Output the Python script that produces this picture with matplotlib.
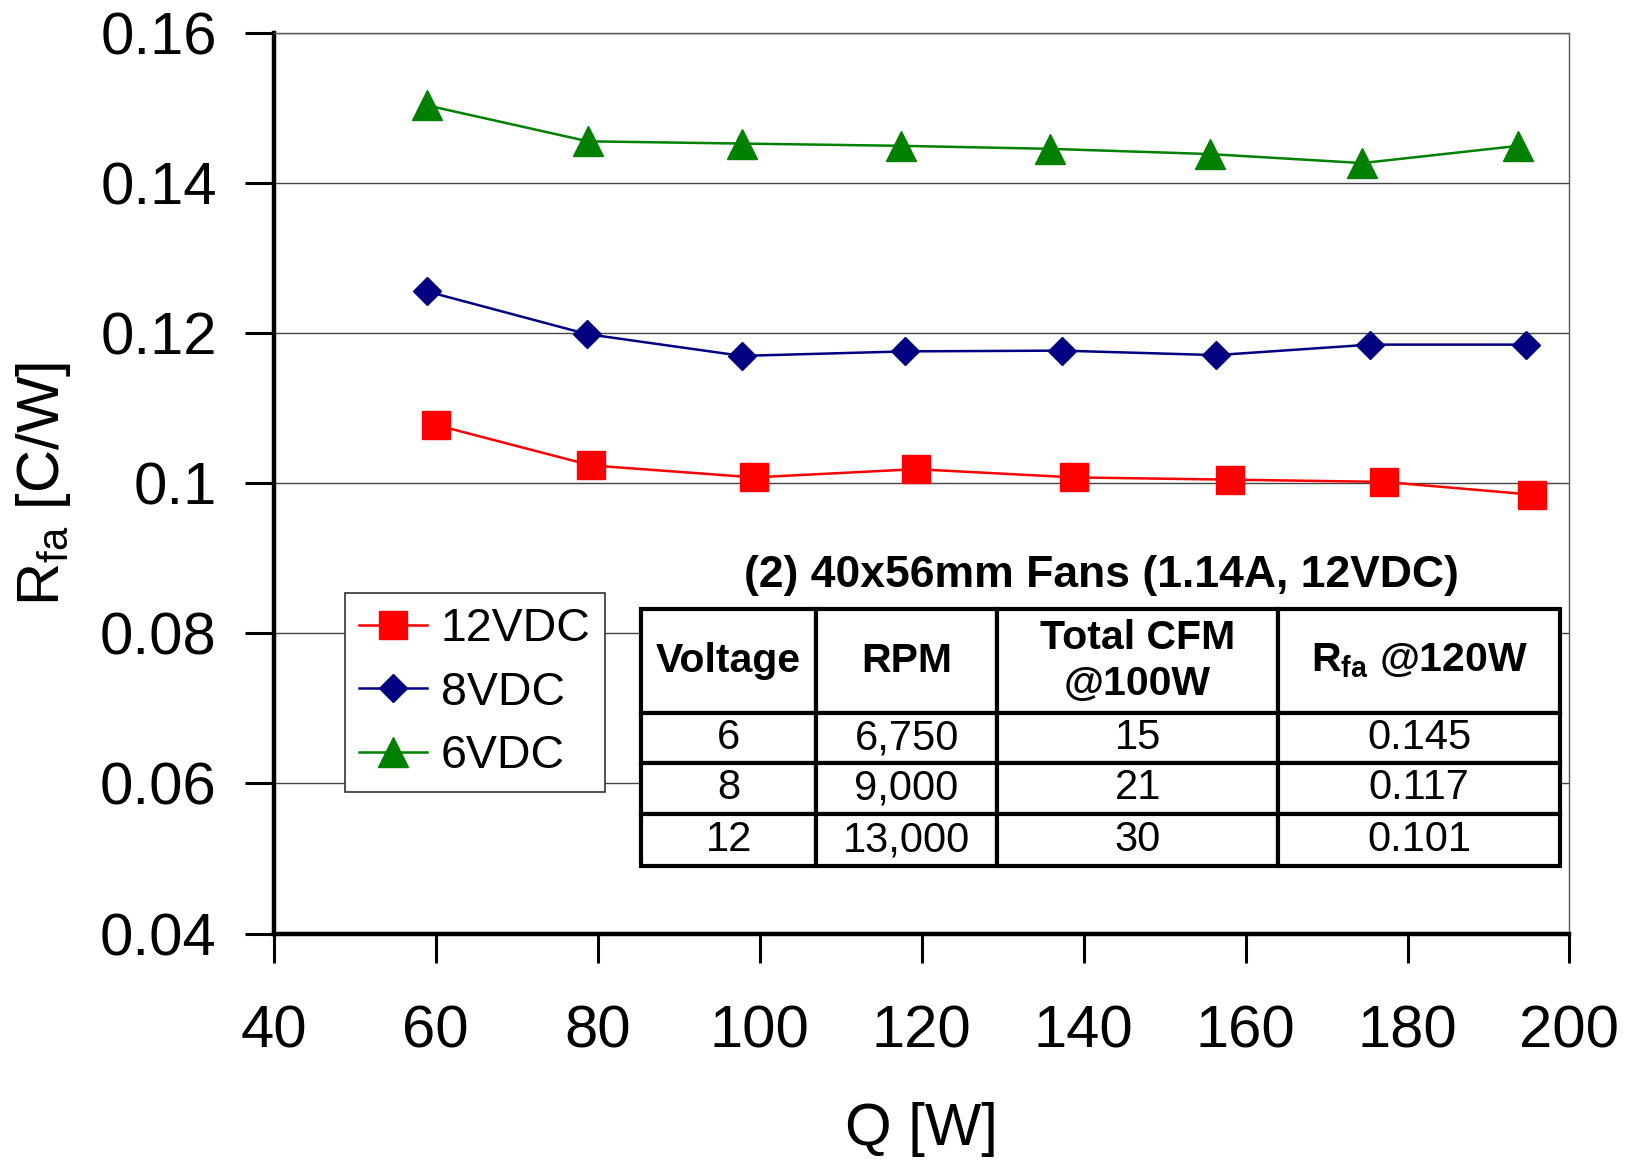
import matplotlib
matplotlib.use("Agg")
import matplotlib.pyplot as plt

plt.rcParams['font.family'] = ['Liberation Sans', 'DejaVu Sans']
plt.rcParams['mathtext.fontset'] = 'custom'
plt.rcParams['mathtext.rm'] = 'Liberation Sans'
plt.rcParams['mathtext.it'] = 'Liberation Sans'
plt.rcParams['mathtext.bf'] = 'Liberation Sans:bold'

# ---- data ----
q_12 = [60.0, 79.2, 99.3, 119.3, 138.8, 158.1, 177.1, 195.4]
r_12 = [0.1078, 0.1024, 0.1008, 0.1019, 0.1008, 0.1005, 0.1002, 0.0985]
q_8 = [58.9, 78.7, 97.8, 118.0, 137.3, 156.4, 175.4, 194.6]
r_8 = [0.1256, 0.1199, 0.1170, 0.1176, 0.1177, 0.1171, 0.1185, 0.1185]
q_6 = [58.9, 78.8, 97.8, 117.4, 135.8, 155.6, 174.4, 193.7]
r_6 = [0.1504, 0.1456, 0.1453, 0.1450, 0.1446, 0.1439, 0.1427, 0.1450]

x_ticks = [40, 60, 80, 100, 120, 140, 160, 180, 200]
y_ticks = [0.04, 0.06, 0.08, 0.1, 0.12, 0.14, 0.16]
y_ticklabels = ["0.04", "0.06", "0.08", "0.1", "0.12", "0.14", "0.16"]

table_title = "(2) 40x56mm Fans (1.14A, 12VDC)"
table_header = ["Voltage", "RPM", "Total CFM\n@100W", r"$\mathbf{R_{fa}}$ @120W"]
table_rows = [["6", "6,750", "15", "0.145"],
              ["8", "9,000", "21", "0.117"],
              ["12", "13,000", "30", "0.101"]]

fig = plt.figure(figsize=(16.32, 11.64), dpi=100)
ax = fig.add_axes([0.1677, 0.198, 0.9617 - 0.1677, 0.9714 - 0.198])

ax.plot(q_12, r_12, color='#FF0000', lw=1.8, marker='s', ms=20, mec='#FF0000', label='12VDC', zorder=3)
ax.plot(q_8, r_8, color='#000080', lw=1.8, marker='D', ms=14.5, mec='#000080', label='8VDC', zorder=3)
ax.plot(q_6, r_6, color='#008000', lw=1.8, marker='^', ms=21, mec='#008000', label='6VDC', zorder=3)

ax.set_xlim(40, 200)
ax.set_ylim(0.04, 0.16)
ax.set_xticks(x_ticks)
ax.set_yticks(y_ticks)
ax.set_yticklabels(y_ticklabels)
ax.tick_params(axis='both', labelsize=43, direction='out', length=21, width=2.2)
ax.tick_params(axis='y', pad=20)
ax.tick_params(axis='x', pad=30)
ax.yaxis.grid(True, color='#444444', lw=1.0)
ax.set_axisbelow(True)
for s in ['left', 'bottom']:
    ax.spines[s].set_linewidth(3.2)
    ax.spines[s].set_color('black')
for s in ['top', 'right']:
    ax.spines[s].set_linewidth(1.0)
    ax.spines[s].set_color('#555555')

ax.set_xlabel("Q [W]", fontsize=43)
ax.xaxis.set_label_coords(0.5, -0.187)
ax.xaxis.label.set_va('top')
fig.text(0.0265, 0.584, r"R$_{\mathrm{fa}}$ [C/W]", rotation=90, fontsize=43, ha='center', va='center')

leg = ax.legend(loc='upper left', bbox_to_anchor=(0.2117, 0.4905), bbox_transform=fig.transFigure,
                fontsize=33.5, frameon=True, fancybox=False, edgecolor='#333333', framealpha=1,
                borderaxespad=0, handlelength=1.45, handletextpad=0.3, labelspacing=0.42,
                borderpad=0.3)
leg.get_frame().set_linewidth(1.2)

# table
tax = fig.add_axes([0.3929, 0.256, 0.956 - 0.3929, 0.4768 - 0.256])
tax.axis('off')
col_w = [168, 174, 270, 271]
tot = sum(col_w)
col_w = [c / tot for c in col_w]
tbl = tax.table(cellText=table_rows, colLabels=table_header, colWidths=col_w,
                cellLoc='center', bbox=[0, 0, 1, 1])
tbl.auto_set_font_size(False)
row_h = [100, 48, 49, 50]
rtot = sum(row_h)
for (r, c), cell in tbl.get_celld().items():
    cell.set_linewidth(3)
    cell.set_edgecolor('black')
    cell.set_height(row_h[r] / rtot)
    if r == 0:
        cell.get_text().set_fontweight('bold')
        cell.get_text().set_fontsize(29.5)
        cell.get_text().set_linespacing(1.25)
    else:
        cell.get_text().set_fontsize(30)
fig.text(0.6747, 0.5055, table_title, fontsize=32, fontweight='bold', ha='center', va='center')

fig.savefig("out.png", dpi=100)
